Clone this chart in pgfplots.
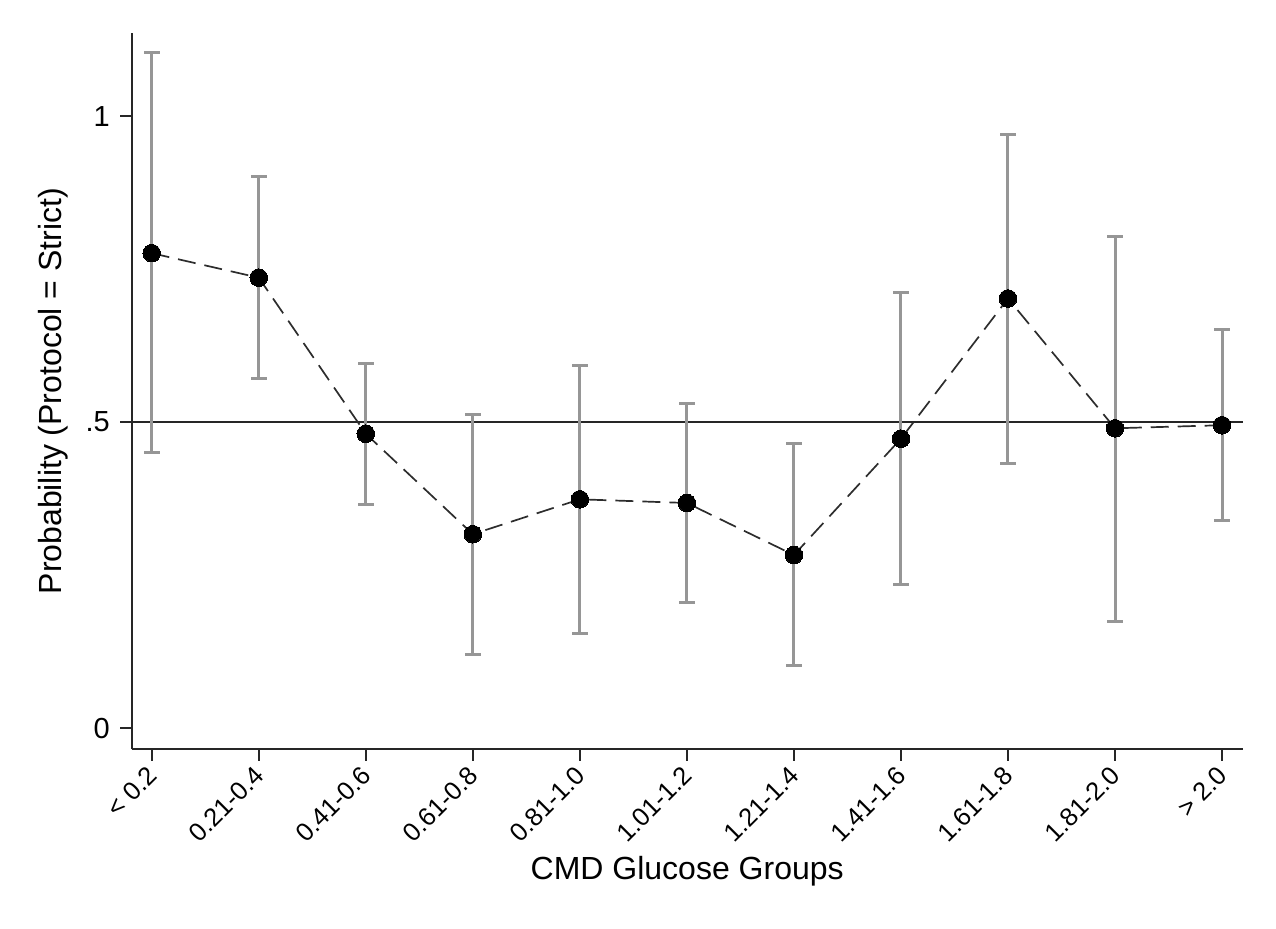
\documentclass[border=0pt]{standalone}
\usepackage{fontspec}
\setmainfont{Liberation Sans}
\usepackage{pgfplots}
\pgfplotsset{compat=1.18}
\usepackage{pgfplotstable}
\definecolor{cigray}{RGB}{150,150,150}
\definecolor{linecol}{RGB}{45,45,45}

\pgfplotstableread{
x y lo hi
0 0.776 0.450 1.103
1 0.736 0.571 0.902
2 0.481 0.366 0.596
3 0.317 0.121 0.512
4 0.374 0.155 0.593
5 0.368 0.206 0.531
6 0.283 0.102 0.465
7 0.473 0.235 0.711
8 0.702 0.433 0.970
9 0.490 0.175 0.803
10 0.495 0.339 0.652
}\datatable

\begin{document}
\begin{tikzpicture}
\path[use as bounding box] (0,0) rectangle (638pt,464pt);
\begin{axis}[
  at={(65.85pt,89.35pt)}, anchor=south west,
  scale only axis, width=555.5pt, height=358.15pt,
  xmin=-0.187, xmax=10.193, ymin=-0.0343, ymax=1.1356,
  clip=false,
  axis x line*=bottom, axis y line*=left,
  axis line style={line width=0.9pt, black!85, -},
  tick align=outside, tick style={line width=0.9pt, black!85},
  major tick length=5.75pt,
  xtick pos=left, ytick pos=left,
  xtick={0,1,2,3,4,5,6,7,8,9,10},
  xticklabels={{< 0.2},{0.21-0.4},{0.41-0.6},{0.61-0.8},{0.81-1.0},{1.01-1.2},{1.21-1.4},{1.41-1.6},{1.61-1.8},{1.81-2.0},{> 2.0}},
  ytick={0,0.5,1}, yticklabels={0,.5,1},
  xticklabel style={yshift=-5pt, xshift=0.5pt, rotate=45, anchor=east, inner sep=0pt, font=\fontsize{12.8}{14}\selectfont},
  yticklabel style={xshift=-5pt, inner sep=0pt, font=\fontsize{14.5}{16}\selectfont},
  xlabel={CMD Glucose Groups}, ylabel={Probability (Protocol = Strict)},
  label style={font=\fontsize{16}{19}\selectfont},
  xlabel style={at={(axis description cs:0.5,-0.1815)}, anchor=base},
  ylabel style={at={(axis description cs:-0.063,0.5)}, anchor=base},
]
\addplot[black!85, line width=0.75pt, forget plot] coordinates {(-0.187,0.5) (10.193,0.5)};
\addplot[draw=none, mark=none, forget plot,
  error bars/.cd, y dir=both, y explicit, error mark=none,
  error bar style={draw=cigray, line width=1.5pt}]
  table[x=x, y=y, y error plus expr=\thisrow{hi}-\thisrow{y}, y error minus expr=\thisrow{y}-\thisrow{lo}] {\datatable};
\addplot[only marks, mark=-, mark size=3.9pt, mark options={draw=cigray, line width=1.5pt}, forget plot]
  table[x=x, y=lo] {\datatable};
\addplot[only marks, mark=-, mark size=3.9pt, mark options={draw=cigray, line width=1.5pt}, forget plot]
  table[x=x, y=hi] {\datatable};
\addplot[linecol, line width=0.85pt, dash pattern=on 9pt off 4.5pt,
  mark=*, mark size=4.4pt, mark options={solid, fill=black, draw=black, line width=0pt}]
  table[x=x, y=y] {\datatable};
\end{axis}
\end{tikzpicture}
\end{document}
